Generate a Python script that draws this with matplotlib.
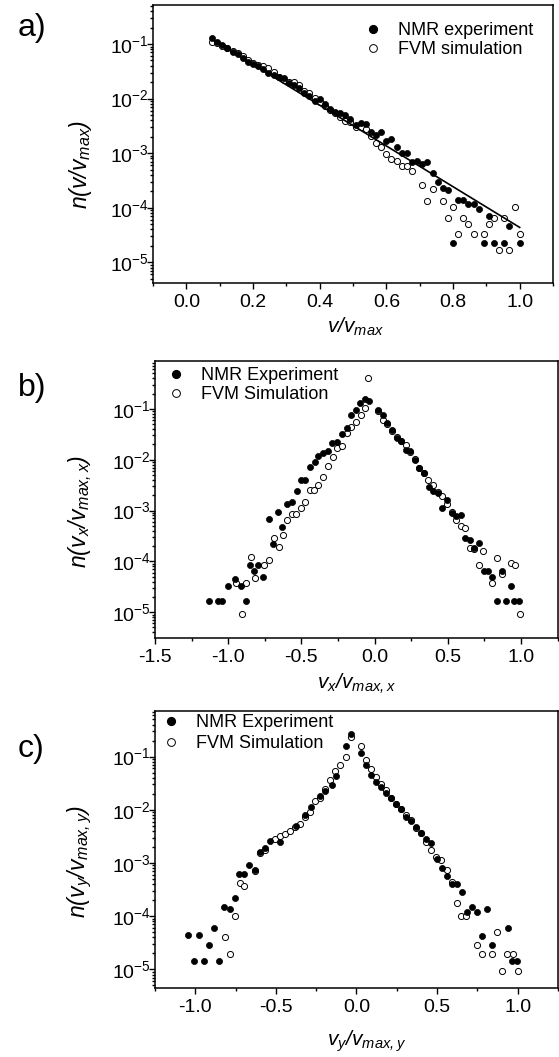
import numpy as np
import matplotlib
matplotlib.use("Agg")
import matplotlib.pyplot as plt
from matplotlib.ticker import LogLocator, MultipleLocator, NullFormatter
from matplotlib.lines import Line2D

plt.rcParams['font.family'] = ['Liberation Sans', 'DejaVu Sans']
plt.rcParams['mathtext.fontset'] = 'custom'
plt.rcParams['mathtext.rm'] = 'Liberation Sans'
plt.rcParams['mathtext.it'] = 'Liberation Sans:italic'
plt.rcParams['mathtext.sf'] = 'Liberation Sans:italic'
plt.rcParams['axes.unicode_minus'] = False

nan = np.nan

# ---------------- a) speed distribution, log10 of n(v/v_max) ----------------
v_a = [0.0769, 0.0923, 0.1077, 0.1231, 0.1385, 0.1538, 0.1692, 0.1846, 0.2000, 0.2154,
       0.2308, 0.2462, 0.2615, 0.2769, 0.2923, 0.3077, 0.3231, 0.3385, 0.3538, 0.3692,
       0.3846, 0.4000, 0.4154, 0.4308, 0.4462, 0.4615, 0.4769, 0.4923, 0.5077, 0.5231,
       0.5385, 0.5538, 0.5692, 0.5846, 0.6000, 0.6154, 0.6308, 0.6462, 0.6615, 0.6769,
       0.6923, 0.7077, 0.7231, 0.7385, 0.7538, 0.7692, 0.7846, 0.8000, 0.8154, 0.8308,
       0.8462, 0.8615, 0.8769, 0.8923, 0.9077, 0.9231, 0.9385, 0.9538, 0.9692, 0.9846,
       1.0000]
nmr_a_log = [-0.885, -0.96, -1.02, -1.07, -1.15, -1.18, -1.26, -1.33, -1.37, -1.40,
             -1.46, -1.53, -1.57, -1.60, -1.62, -1.72, -1.76, -1.80, -1.90, -1.95,
             -2.04, -2.01, -2.10, -2.19, -2.24, -2.26, -2.30, -2.38, -2.48, -2.44,
             -2.47, -2.62, -2.66, -2.61, -2.77, -2.75, -2.89, -2.99, -3.00, -3.16,
             -3.14, -3.20, -3.16, -3.36, -3.52, -3.63, -3.68, -4.64, -3.86, -3.86,
             -3.94, -3.94, -4.03, -4.64, -4.16, -4.64, nan, -4.64, -4.34, nan,
             -4.64]
fvm_a_log = [-0.96, -0.99, -1.04, -1.08, -1.12, -1.17, -1.22, -1.29, -1.34, -1.38,
             -1.41, -1.44, -1.52, -1.60, -1.66, -1.70, -1.70, -1.76, -1.86, -1.89,
             -1.99, -2.07, -2.14, -2.21, -2.27, -2.33, -2.41, -2.43, -2.53, -2.52,
             -2.55, -2.69, -2.81, -2.89, -3.02, -3.11, -3.14, -3.24, -3.23, -3.33,
             nan, -3.58, -3.87, -3.66, nan, -3.87, -4.18, -3.99, -4.48, -4.18,
             -4.30, -4.48, nan, -4.48, -4.30, -4.18, -4.77, -4.18, -4.77, -3.99,
             -4.48]
# exponential fit: log10 n = fit_a + fit_b * v/v_max
fit_a, fit_b = -0.628, -3.733
fit_range = [0.077, 1.0]

# ---------------- b) x-velocity distribution ----------------
vx_nmr = [-1.130, -1.071, -1.043, -1.002, -0.950, -0.915, -0.879, -0.852, -0.825, -0.796,
          -0.765, -0.720, -0.695, -0.661, -0.629, -0.595, -0.565, -0.531, -0.501, -0.474,
          -0.440, -0.406, -0.383, -0.349, -0.320, -0.292, -0.258, -0.224, -0.190, -0.160,
          -0.126, -0.099, -0.065, -0.035, 0.026, 0.056, 0.087, 0.117, 0.151, 0.179,
          0.215, 0.242, 0.276, 0.306, 0.340, 0.372, 0.401, 0.431, 0.463, 0.497,
          0.527, 0.556, 0.588, 0.620, 0.652, 0.681, 0.713, 0.747, 0.772, 0.804,
          0.834, 0.868, 0.895, 0.929, 0.952, 0.989]
nmr_b_log = [-4.78, -4.78, -4.78, -4.48, -4.34, -4.49, -4.78, -4.08, -4.19, -4.08,
             -4.31, -3.17, -3.65, -3.02, -3.32, -2.87, -2.83, -2.61, -2.39, -2.39,
             -2.15, -2.04, -1.93, -1.86, -1.82, -1.68, -1.66, -1.49, -1.38, -1.12,
             -1.02, -0.88, -0.81, -0.85, -1.02, -1.12, -1.28, -1.42, -1.58, -1.63,
             -1.81, -1.83, -2.01, -2.17, -2.27, -2.53, -2.62, -2.65, -2.96, -2.79,
             -3.05, -3.11, -3.09, -3.55, -3.58, -3.74, -3.63, -4.18, -4.18, -4.30,
             -4.78, -4.18, -4.78, -4.48, -4.78, -4.78]
vx_fvm = [-0.945, -0.907, -0.877, -0.843, -0.816, -0.754, -0.724, -0.686, -0.656, -0.626,
          -0.595, -0.565, -0.536, -0.501, -0.474, -0.440, -0.413, -0.383, -0.349, -0.315,
          -0.285, -0.254, -0.224, -0.190, -0.160, -0.126, -0.094, -0.065, -0.042, 0.026,
          0.056, 0.087, 0.117, 0.151, 0.179, 0.215, 0.242, 0.276, 0.306, 0.340,
          0.368, 0.397, 0.431, 0.463, 0.493, 0.527, 0.556, 0.588, 0.620, 0.652,
          0.681, 0.713, 0.743, 0.804, 0.834, 0.868, 0.929, 0.959, 0.993]
fvm_b_log = [-4.42, -5.04, -4.42, -3.91, -4.33, -4.07, -3.97, -3.55, -3.71, -3.48,
             -3.19, -3.06, -3.06, -2.96, -2.83, -2.60, -2.60, -2.50, -2.35, -2.12,
             -1.95, -1.76, -1.73, -1.47, -1.35, -1.25, -1.12, -0.98, -0.40, -1.05,
             -1.21, -1.30, -1.44, -1.56, -1.64, -1.71, -1.84, -1.99, -2.17, -2.27,
             -2.40, -2.49, -2.64, -2.72, -2.87, -3.03, -3.19, -3.30, -3.34, -3.73,
             -3.76, -4.07, -3.79, -4.42, -3.94, -4.24, -4.03, -4.07, -5.04]

# ---------------- c) y-velocity distribution ----------------
vy_nmr = [-1.045, -1.010, -0.979, -0.948, -0.915, -0.886, -0.853, -0.822, -0.787, -0.756,
          -0.729, -0.697, -0.666, -0.631, -0.600, -0.569, -0.538, -0.476, -0.378, -0.321,
          -0.284, -0.225, -0.193, -0.155, -0.128, -0.068, -0.035, 0.026, 0.057, 0.088,
          0.119, 0.150, 0.185, 0.216, 0.247, 0.278, 0.309, 0.340, 0.371, 0.402,
          0.433, 0.464, 0.500, 0.531, 0.562, 0.594, 0.626, 0.657, 0.686, 0.719,
          0.748, 0.781, 0.810, 0.843, 0.938, 0.967, 0.998]
nmr_c_log = [-4.35, -4.84, -4.35, -4.84, -4.54, -4.23, -4.84, -3.82, -3.87, -3.65,
             -3.21, -3.21, -3.03, -3.13, -2.79, -2.71, -2.58, -2.60, -2.30, -2.10,
             -1.95, -1.74, -1.64, -1.53, -1.37, -0.80, -0.575, -0.93, -1.16, -1.35,
             -1.47, -1.57, -1.68, -1.78, -1.90, -1.99, -2.13, -2.22, -2.32, -2.44,
             -2.54, -2.62, -2.93, -3.10, -3.24, -3.39, -3.40, -3.54, -3.92, -3.82,
             -3.93, -4.37, -3.87, -4.54, -4.23, -4.84, -4.84]
vy_fvm = [-0.813, -0.787, -0.756, -0.724, -0.697, -0.631, -0.600, -0.569, -0.507, -0.476,
          -0.445, -0.414, -0.383, -0.352, -0.321, -0.291, -0.260, -0.229, -0.195, -0.164,
          -0.133, -0.102, -0.068, -0.035, 0.026, 0.057, 0.092, 0.123, 0.154, 0.185,
          0.216, 0.247, 0.278, 0.309, 0.340, 0.371, 0.402, 0.433, 0.464, 0.496,
          0.527, 0.562, 0.594, 0.624, 0.650, 0.681, 0.748, 0.781, 0.843, 0.874,
          0.905, 0.936, 0.971, 1.002]
fvm_c_log = [-4.40, -4.72, -4.00, -3.38, -3.43, -3.16, -2.82, -2.76, -2.55, -2.50,
             -2.46, -2.40, -2.32, -2.26, -2.14, -2.04, -1.83, -1.77, -1.60, -1.44,
             -1.28, -1.16, -1.00, -0.64, -0.81, -1.06, -1.24, -1.38, -1.51, -1.63,
             -1.77, -1.90, -1.99, -2.10, -2.20, -2.35, -2.43, -2.60, -2.76, -2.88,
             -2.94, -3.13, -3.36, -3.76, -4.00, -4.00, -4.54, -4.72, -4.72, -4.30,
             -5.03, -4.72, -4.72, -5.03]

W, H = 559, 1057
fig = plt.figure(figsize=(W / 100, H / 100), dpi=100)


def px_axes(left, top, right, bottom):
    return fig.add_axes([left / W, 1 - bottom / H, (right - left) / W, (bottom - top) / H])


def fig_text(x, y, s, **kw):
    fig.text(x / W, 1 - y / H, s, **kw)


def style(ax, xlim, ylog, xmajor, xminor):
    ax.set_yscale('log')
    ax.set_xlim(*xlim)
    ax.set_ylim(10 ** ylog[0], 10 ** ylog[1])
    ax.xaxis.set_major_locator(MultipleLocator(xmajor))
    ax.xaxis.set_minor_locator(MultipleLocator(xminor))
    ax.yaxis.set_major_locator(LogLocator(base=10, numticks=20))
    ax.yaxis.set_minor_locator(LogLocator(base=10, subs=np.arange(2, 10), numticks=60))
    ax.yaxis.set_minor_formatter(NullFormatter())
    ax.tick_params(which='both', direction='out', top=False, right=False, width=1.0,
                   labelsize=14)
    ax.tick_params(which='major', length=4)
    ax.tick_params(which='minor', length=2.3)
    ax.tick_params(axis='x', which='major', pad=4.0)
    ax.tick_params(axis='y', which='major', pad=-1.0)
    for s in ax.spines.values():
        s.set_linewidth(1.1)


def scatter_pair(ax, xn, yn, xf, yf):
    ax.plot(xf, 10 ** np.asarray(yf, float), ls='none', marker='o', ms=4.4,
            mfc='white', mec='black', mew=0.7, zorder=3)
    ax.plot(xn, 10 ** np.asarray(yn, float), ls='none', marker='o', ms=4.4,
            mfc='black', mec='black', mew=0.5, zorder=4)


def legend(ax, labels, left, top, spacing):
    handles = [Line2D([], [], ls='none', marker='o', ms=5.6, mfc='black', mec='black'),
               Line2D([], [], ls='none', marker='o', ms=5.6, mfc='white', mec='black',
                      mew=0.7)]
    ax.legend(handles, labels, loc='upper left', bbox_to_anchor=(left / W, 1 - top / H),
              bbox_transform=fig.transFigure, frameon=False, borderpad=0,
              borderaxespad=0, handlelength=1.0, handletextpad=0.9,
              labelspacing=spacing, fontsize=13)


# a)
ax_a = px_axes(153, 5, 553, 283)
style(ax_a, (-0.1, 1.1), (-5.38, -0.285), 0.2, 0.1)
scatter_pair(ax_a, v_a, nmr_a_log, v_a, fvm_a_log)
fx = np.array(fit_range)
ax_a.plot(fx, 10 ** (fit_a + fit_b * fx), color='black', lw=1.2, zorder=5)
legend(ax_a, ['NMR experiment', 'FVM simulation'], 364, 22, 0.12)

# b)
ax_b = px_axes(155, 361, 557.5, 638)
style(ax_b, (-1.5, 1.25), (-5.508, -0.058), 0.5, 0.25)
scatter_pair(ax_b, vx_nmr, nmr_b_log, vx_fvm, fvm_b_log)
legend(ax_b, ['NMR Experiment', 'FVM Simulation'], 167, 367, 0.12)

# c)
ax_c = px_axes(155, 711, 558, 988)
style(ax_c, (-1.25, 1.25), (-5.35, -0.143), 0.5, 0.25)
scatter_pair(ax_c, vy_nmr, nmr_c_log, vy_fvm, fvm_c_log)
legend(ax_c, ['NMR Experiment', 'FVM Simulation'], 162, 714, 0.22)

# axis titles
ylab = dict(fontsize=16.5, ha='center', va='center', rotation=90)
xlab = dict(fontsize=15, ha='center', va='center')
fig_text(80, 165, r'$\mathsf{n(v/v_{max})}$', **ylab)
fig_text(355, 327, r'$\mathsf{v/v_{max}}$', **xlab)
fig_text(80, 512, r'$\mathsf{n(v_x/v_{max,x})}$', **ylab)
fig_text(356, 684, r'$\mathsf{v_x/v_{max,x}}$', **xlab)
fig_text(80, 862, r'$\mathsf{n(v_y/v_{max,y})}$', **ylab)
fig_text(367, 1041, r'$\mathsf{v_y/v_{max,y}}$', **xlab)

# panel tags
for tag, y in (('a)', 28), ('b)', 388), ('c)', 749)):
    fig_text(18, y, tag, fontsize=23, ha='left', va='center')

fig.savefig('out.png', dpi=100)
